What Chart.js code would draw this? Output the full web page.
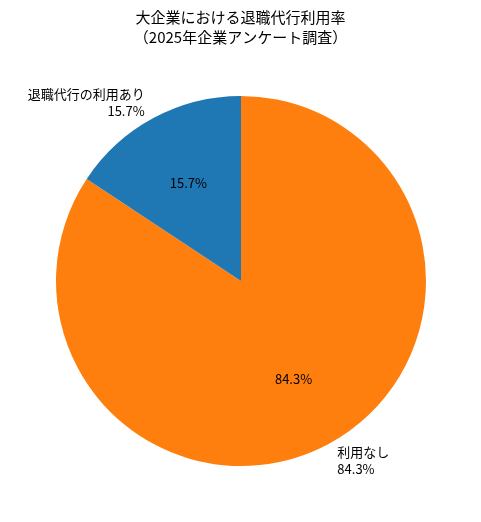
<!DOCTYPE html>
<html><head><meta charset="utf-8">
<script src="https://cdn.jsdelivr.net/npm/chart.js@4"></script>
<style>body{margin:0;background:#fff}</style>
</head><body>
<canvas id="c" width="481" height="522"></canvas>
<script>
const titleLines = ['大企業における退職代行利用率', '（2025年企業アンケート調査）'];
const categories = ['利用なし', '退職代行の利用あり'];
const values = [84.3, 15.7];
const colors = ['#ff7f0e', '#1f77b4'];
const FONT = '"Noto Sans CJK JP", "Noto Sans", sans-serif';

// labels drawn like matplotlib: pct inside at 0.6r, names outside at 1.1r
const pieLabels = {
  id: 'pieLabels',
  afterDraw(chart) {
    const ctx = chart.ctx;
    ctx.save();
    ctx.fillStyle = '#000';
    ctx.font = '15px ' + FONT;
    ctx.textAlign = 'center';
    ctx.textBaseline = 'middle';
    titleLines.forEach((t, i) => ctx.fillText(t, chart.width / 2, 17 + i * 20));
    const meta = chart.getDatasetMeta(0);
    meta.data.forEach((arc, i) => {
      const p = arc.getProps(['x', 'y', 'startAngle', 'endAngle', 'outerRadius']);
      const mid = (p.startAngle + p.endAngle) / 2;
      const pct = values[i].toFixed(1) + '%';
      ctx.font = '13px ' + FONT;
      ctx.textAlign = 'center';
      ctx.fillText(pct, p.x + Math.cos(mid) * p.outerRadius * 0.6, p.y + Math.sin(mid) * p.outerRadius * 0.6);
      const lx = p.x + Math.cos(mid) * p.outerRadius * 1.1;
      const ly = p.y + Math.sin(mid) * p.outerRadius * 1.1;
      ctx.textAlign = lx < p.x ? 'right' : 'left';
      ctx.fillText(categories[i], lx, ly - 8);
      ctx.fillText(pct, lx, ly + 9);
    });
    ctx.restore();
  }
};

new Chart(document.getElementById('c'), {
  type: 'pie',
  data: {
    labels: categories,
    datasets: [{ data: values, backgroundColor: colors, borderWidth: 0 }]
  },
  options: {
    responsive: false,
    animation: false,
    layout: { padding: { top: 96, bottom: 56, left: 56, right: 55 } },
    plugins: { legend: { display: false }, tooltip: { enabled: false } }
  },
  plugins: [pieLabels]
});
</script>
</body></html>
